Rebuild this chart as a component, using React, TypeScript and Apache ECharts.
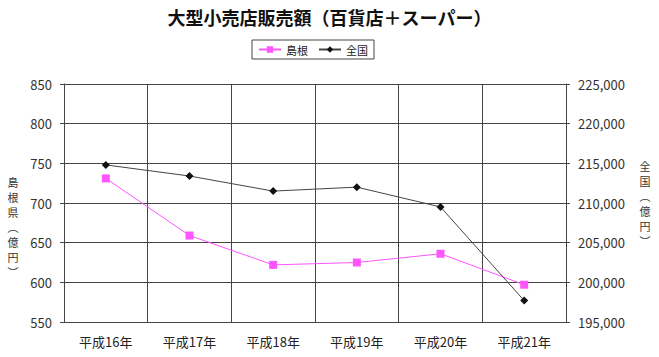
import React, { useEffect, useRef } from "react";
import * as echarts from "echarts";

const categories = ["平成16年", "平成17年", "平成18年", "平成19年", "平成20年", "平成21年"];
const shimane = [731, 659, 622, 625, 636, 597];
const zenkoku = [214800, 213400, 211500, 212000, 209500, 197700];
const titleText = "大型小売店販売額（百貨店＋スーパー）";
const leftName = ["島", "根", "県", "︵", "億", "円", "︶"];
const rightName = ["全", "国", "︵", "億", "円", "︶"];

const FONT = "'Noto Sans CJK JP', 'Noto Sans', sans-serif";

function verticalText(chars: string[], x: number, yStart: number, step: number) {
  return chars.map((c, i) => ({
    type: "text",
    x,
    y: yStart + i * step,
    style: {
      text: c,
      fontSize: 11,
      fill: "#333333",
      fontFamily: FONT,
      align: "center",
      verticalAlign: "middle",
    },
  }));
}

export default function App() {
  const ref = useRef<HTMLDivElement>(null);
  useEffect(() => {
    if (!ref.current) return;
    const chart = echarts.init(ref.current, undefined, { renderer: "svg" });
    chart.setOption({
      animation: false,
      backgroundColor: "#fff",
      textStyle: { fontFamily: FONT },
      title: {
        text: titleText,
        left: "center",
        top: 3,
        textStyle: { fontSize: 18, fontWeight: "bold", color: "#111", fontFamily: FONT },
      },
      legend: {
        top: 40,
        left: 252,
        itemWidth: 22,
        itemHeight: 8,
        itemGap: 10,
        padding: [4, 6],
        borderColor: "#444",
        borderWidth: 1,
        textStyle: { fontSize: 11, color: "#222", fontFamily: FONT },
        data: ["島根", "全国"],
      },
      grid: { left: 64, right: 93, top: 84, bottom: 35 },
      xAxis: {
        type: "category",
        data: categories,
        boundaryGap: true,
        axisLine: { lineStyle: { color: "#444", width: 1 } },
        axisTick: { show: false },
        axisLabel: { fontSize: 13, color: "#222", margin: 13, fontFamily: FONT },
        splitLine: { show: true, lineStyle: { color: "#444", width: 1 } },
      },
      yAxis: [
        {
          type: "value",
          min: 550,
          max: 850,
          interval: 50,
          position: "left",
          axisLine: { show: true, lineStyle: { color: "#444" } },
          axisTick: { show: true, length: 4, lineStyle: { color: "#444" } },
          axisLabel: { fontSize: 13, color: "#333", margin: 12, fontFamily: FONT },
          splitLine: { show: true, lineStyle: { color: "#444", width: 1 } },
        },
        {
          type: "value",
          min: 195000,
          max: 225000,
          interval: 5000,
          position: "right",
          axisLine: { show: true, lineStyle: { color: "#444" } },
          axisTick: { show: true, length: 4, lineStyle: { color: "#444" } },
          axisLabel: {
            fontSize: 13,
            color: "#333",
            margin: 12,
            fontFamily: FONT,
            formatter: (v: number) => v.toLocaleString("en-US"),
          },
          splitLine: { show: false },
        },
      ],
      graphic: [
        ...verticalText(leftName, 13, 182, 15),
        ...verticalText(rightName, 645, 166, 15),
      ],
      series: [
        {
          name: "島根",
          type: "line",
          yAxisIndex: 0,
          data: shimane,
          symbol: "rect",
          symbolSize: 8,
          itemStyle: { color: "#ff55ff" },
          lineStyle: { color: "#ff55ff", width: 1 },
        },
        {
          name: "全国",
          type: "line",
          yAxisIndex: 1,
          data: zenkoku,
          symbol: "diamond",
          symbolSize: 8,
          itemStyle: { color: "#111" },
          lineStyle: { color: "#444", width: 1 },
        },
      ],
    });
    return () => chart.dispose();
  }, []);
  return <div ref={ref} style={{ width: 659, height: 357, position: "absolute", left: 0, top: 0 }} />;
}
